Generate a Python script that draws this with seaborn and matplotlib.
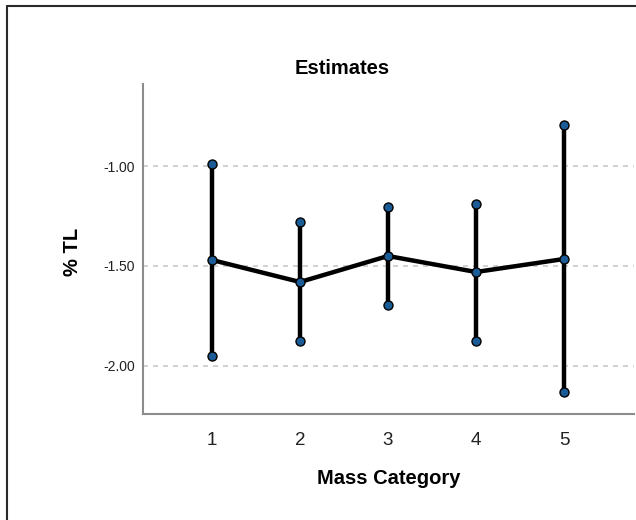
import matplotlib
matplotlib.use("Agg")
import matplotlib.pyplot as plt
import seaborn as sns
import pandas as pd
from matplotlib.lines import Line2D

categories = [1, 2, 3, 4, 5]
means = [-1.47, -1.58, -1.45, -1.53, -1.465]
lower = [-1.95, -1.875, -1.695, -1.875, -2.13]
upper = [-0.99, -1.28, -1.205, -1.19, -0.795]
ytick_vals = [-1.00, -1.50, -2.00]
ytick_labels = ["-1.00", "-1.50", "-2.00"]

sns.set_theme(style="white")
plt.rcParams['font.family'] = ['Liberation Sans', 'DejaVu Sans']

W, H = 636, 520
fig = plt.figure(figsize=(W / 100, H / 100), dpi=100)
ax = fig.add_axes([143 / W, 1 - 414 / H, (634 - 143) / W, (414 - 84) / H])

df = pd.DataFrame({"cat": categories, "mean": means, "lo": lower, "hi": upper})
ends = pd.DataFrame({"cat": categories * 2, "val": lower + upper})

for yv in ytick_vals:
    ax.axhline(yv, color="#c8c8c8", lw=1.2, ls=(0, (3, 3)), zorder=0)

ax.vlines(df["cat"], df["lo"], df["hi"], color="black", lw=3.2, zorder=2)
sns.lineplot(data=df, x="cat", y="mean", color="black", lw=3.2, ax=ax, zorder=3)
sns.scatterplot(data=ends, x="cat", y="val", ax=ax, s=42,
                color="#1a5c96", edgecolor="black", linewidth=1.0, zorder=4)
sns.scatterplot(data=df, x="cat", y="mean", ax=ax, s=42,
                color="#1a5c96", edgecolor="black", linewidth=1.0, zorder=4)

ax.set_xlim(1 - 69 / 88, 5 + 70 / 88)
ax.set_ylim(-2.0 - 48 / 200, -1.0 + 82 / 200)
ax.set_xticks(categories)
ax.set_xticklabels([str(c) for c in categories], fontsize=13.5, color="#222222")
ax.set_yticks(ytick_vals)
ax.set_yticklabels(ytick_labels, fontsize=10, color="#222222")
ax.tick_params(axis="x", length=0, pad=13)
ax.tick_params(axis="y", length=0, pad=6)
ax.set_xlabel("")
ax.set_ylabel("")
for s in ["top", "right"]:
    ax.spines[s].set_visible(False)
for s in ["left", "bottom"]:
    ax.spines[s].set_color("#8c8c8c")
    ax.spines[s].set_linewidth(1.5)

fig.text(342 / W, 1 - 68 / H, "Estimates", ha="center", va="center",
         fontsize=14.5, fontweight="bold", color="black")
fig.text(389 / W, 1 - 479 / H, "Mass Category", ha="center", va="center",
         fontsize=14.5, fontweight="bold", color="black")
fig.text(72 / W, 1 - 252 / H, "% TL", ha="center", va="center", rotation=90,
         fontsize=14.5, fontweight="bold", color="black")

fig.add_artist(Line2D([7 / W, 1.0], [1 - 6 / H, 1 - 6 / H], color="#2a2a2a", lw=1.5))
fig.add_artist(Line2D([7 / W, 7 / W], [1 - 6 / H, 0.0], color="#2a2a2a", lw=1.5))

fig.savefig("out.png", dpi=100)
